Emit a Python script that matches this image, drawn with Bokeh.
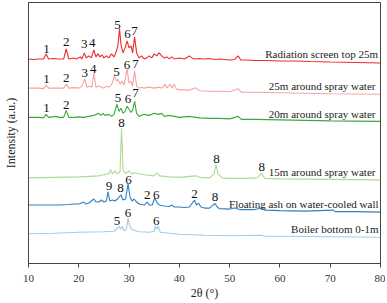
from bokeh.plotting import figure
from bokeh.models import Range1d, FixedTicker
from bokeh.core.properties import value
from bokeh.embed import file_html
from bokeh.resources import INLINE

# ---- data (2theta in degrees, intensity in a.u. with vertical offsets) ----
red_x = [10, 11, 12, 13, 13.5, 14, 15, 16, 17, 17.5, 18, 19, 19.5, 20.3, 20.6, 21.1, 21.5, 22, 22.5, 23, 23.4, 23.8, 24.2, 24.6, 25, 25.5, 26, 26.5, 27, 27.5, 27.8, 28.1, 28.4, 28.8, 29.2, 29.6, 30, 30.4, 30.7, 31.1, 31.5, 32, 32.5, 33, 33.5, 34, 34.5, 35, 35.5, 36, 36.5, 37, 37.5, 38, 38.5, 39, 40, 41, 42, 42.5, 43, 44, 45, 46, 47, 48, 49, 50, 51, 51.7, 52.2, 53, 55, 57, 60, 63, 66, 70, 75, 80]
red_y = [203, 202.5, 203, 203, 208, 203, 203.5, 203, 203, 213, 203, 204, 203, 205, 203, 209, 204, 206, 204, 212, 205, 208, 205, 207, 204, 206, 204, 208, 205, 211, 217, 233, 217, 209, 214, 221, 214, 216, 209, 225, 209, 204, 206, 203, 204, 206, 204, 208, 206, 209, 206, 204, 205, 203, 205, 203, 204, 203, 206, 204, 203, 203.5, 203, 203.5, 202.5, 203, 202.5, 202, 202.5, 206, 202, 202, 201.5, 201.5, 201, 201, 200.5, 200, 199.5, 199]

pink_x = [10, 12, 13, 13.5, 14, 16, 17, 17.5, 18, 19, 20, 20.6, 21.2, 21.6, 22.2, 22.6, 23, 23.4, 24, 24.5, 25, 25.5, 26, 26.5, 27.1, 27.5, 27.8, 28.2, 28.6, 29, 29.6, 30, 30.4, 30.7, 31.1, 31.5, 32, 32.5, 33, 34, 35, 36, 36.6, 37.2, 37.5, 38.2, 38.5, 39, 39.4, 40, 42, 43.2, 44, 46, 48, 50, 51.7, 52.3, 55, 60, 65, 70, 80]
pink_y = [174, 174, 173.5, 177, 174, 174, 174, 178, 174, 174.5, 174, 176, 183, 175, 176, 175, 189, 175, 176, 175, 174, 176, 175, 177, 186, 181, 183, 178, 181, 177, 193, 179, 181, 176, 191, 176, 174, 175, 174, 175, 174, 175, 174, 178, 174, 178, 174, 178, 173, 172.5, 172, 174.5, 171.5, 171, 171, 170.5, 173.5, 170, 170, 169.5, 169, 168.5, 168]

green_x = [10, 12, 13, 13.5, 14, 15.5, 16, 17, 17.5, 18, 19, 20, 21, 22, 23, 24, 24.4, 24.8, 25.2, 26, 26.5, 27, 27.6, 28, 28.4, 28.8, 29.2, 29.6, 30, 30.4, 30.7, 31.1, 31.5, 32, 33, 34, 35, 35.8, 36.5, 37, 38, 39, 40, 42, 44, 46, 48, 50, 51.7, 52.3, 55, 60, 65, 70, 80]
green_y = [145, 145, 144.5, 148, 145, 146, 145, 145, 152, 145, 145, 145.5, 145, 146, 147, 149, 147, 149, 147, 148, 146, 148, 158, 151, 154, 149, 151, 156, 153, 150, 152, 161, 149, 146, 148, 147, 149, 148, 149, 146, 147, 146, 145, 146, 144.5, 144, 144, 143.5, 146, 143, 143, 142.5, 142, 141.5, 141]

lgreen_x = [10, 15, 20, 24, 26, 26.3, 26.7, 27.2, 27.6, 28.2, 28.5, 28.8, 29.3, 30, 30.6, 31, 33, 35, 35.6, 36.1, 38, 40, 43.2, 44, 46, 46.9, 47.3, 47.7, 48.5, 50, 53, 55.5, 56.3, 57, 60, 70, 80]
lgreen_y = [85, 85.5, 86, 87, 89, 93, 89, 92, 89, 91, 134, 93, 89, 92, 89, 90, 88, 87, 90, 87, 86, 85.5, 87, 85.5, 85, 89, 98, 89, 85, 84.5, 84.5, 85, 89.5, 84.5, 84, 83.5, 83]

blue_x = [10, 12, 14, 16, 18, 19, 20, 21, 21.4, 22, 23, 23.4, 24, 24.5, 25, 25.5, 25.8, 26.2, 26.7, 27.2, 27.7, 28.4, 28.8, 29.3, 29.8, 30.2, 30.6, 31, 31.5, 32, 33, 33.6, 34, 34.6, 35.1, 35.5, 36, 37, 38, 38.5, 39, 40, 41, 42, 43, 43.4, 43.8, 44.3, 45, 46, 47.1, 47.6, 48, 50, 51, 52, 55, 56.3, 57, 60, 65, 70.5, 71, 75, 80]
blue_y = [58, 58, 58, 58, 58.5, 59, 59, 61, 59, 60, 64, 61, 61, 63, 61, 62, 71, 62, 63, 62, 64, 68, 63, 64, 79, 66, 62, 64, 61, 59, 58, 61, 58, 58, 65, 61, 58, 57, 56.5, 58, 56, 56, 55.5, 56, 63, 58, 60, 56, 55, 55, 59.5, 55.5, 54.5, 54, 55, 53.5, 53.5, 55, 53, 52.5, 52, 53, 51.5, 51.5, 51]

lblue_x = [10, 15, 20, 25, 27, 27.7, 28, 28.3, 28.6, 29, 29.5, 29.8, 30.2, 30.6, 31, 32, 34, 35, 35.2, 35.5, 35.8, 36.2, 38, 40, 45, 50, 56.3, 57, 60, 70, 80]
lblue_y = [29.5, 30, 31, 31.5, 32, 35, 37, 34, 37, 32.5, 34, 45, 36, 34, 33, 31.5, 31, 32, 37, 34, 37, 31, 30, 29, 28, 27.5, 28, 27, 27, 26.5, 26]

series_names = ["Radiation screen top 25m", "25m around spray water", "20m around spray water",
                "15m around spray water", "Floating ash on water-cooled wall", "Boiler bottom 0-1m"]
series_colors = ["#f02a2a", "#f7a3a3", "#3ea83a", "#addb8e", "#2f80c4", "#a2cbe8"]
name_x = [79.5, 79.0, 79.0, 79.0, 79.6, 79.6]
name_y = [208, 176, 148, 91, 59, 34]

peak_x = [13.6, 17.5, 21.1, 22.7, 27.7, 29.7, 31.1,
          13.6, 17.5, 21.2, 22.9, 27.5, 29.6, 31.3,
          13.6, 17.5, 27.8, 29.8, 31.3,
          28.5, 47.4, 56.4,
          26.0, 28.3, 29.9, 33.6, 35.4, 43.0, 47.1,
          27.6, 29.8, 35.4]
peak_y = [213, 219.5, 218, 219, 237, 228, 231,
          183, 184, 189, 193, 190, 197, 198,
          154, 157, 164, 163, 169,
          139, 104, 96,
          77, 75, 83, 68, 68, 69, 66,
          42, 50, 42]
peak_text = ["1", "2", "3", "4", "5", "6", "7",
             "1", "2", "3", "4", "5", "6", "7",
             "1", "2", "5", "6", "7",
             "8", "8", "8",
             "9", "8", "6", "2", "6", "2", "8",
             "5", "6", "6"]

x_ticks = [10, 20, 30, 40, 50, 60, 70, 80]

FONT = "Liberation Serif"

p = figure(width=385, height=302, output_backend="svg", toolbar_location=None,
           x_range=Range1d(10, 80), y_range=Range1d(0, 259),
           min_border_left=28, min_border_right=5, min_border_top=2, min_border_bottom=0)
p.background_fill_color = "white"
p.grid.visible = False
p.outline_line_color = "#444444"
p.outline_line_width = 1

xs = [red_x, pink_x, green_x, lgreen_x, blue_x, lblue_x]
ys = [red_y, pink_y, green_y, lgreen_y, blue_y, lblue_y]
for x, y, c in zip(xs, ys, series_colors):
    p.line(x, y, line_color=c, line_width=1.1)

p.text(x=name_x, y=name_y, text=series_names, text_font=value(FONT),
       text_font_size="11px", text_align="right", text_baseline="middle", text_color="#222222")
p.text(x=peak_x, y=peak_y, text=peak_text, text_font=value(FONT),
       text_font_size="13px", text_align="center", text_baseline="middle", text_color="#111111")

xa = p.xaxis[0]
xa.ticker = FixedTicker(ticks=x_ticks)
xa.axis_label = "2θ (°)"
xa.axis_label_text_font = FONT
xa.axis_label_text_font_style = "normal"
xa.axis_label_text_font_size = "12px"
xa.axis_label_text_color = "#222222"
xa.axis_label_standoff = 1
xa.major_label_text_font = FONT
xa.major_label_text_font_size = "11px"
xa.major_label_text_color = "#333333"
xa.major_label_standoff = 7
xa.major_tick_out = 4
xa.major_tick_in = 0
xa.minor_tick_line_color = None
xa.axis_line_color = "#444444"
xa.major_tick_line_color = "#444444"

ya = p.yaxis[0]
ya.ticker = FixedTicker(ticks=[])
ya.axis_label = "Intensity (a.u.)"
ya.axis_label_text_font = FONT
ya.axis_label_text_font_style = "normal"
ya.axis_label_text_font_size = "12px"
ya.axis_label_text_color = "#222222"
ya.axis_label_standoff = 11
ya.major_tick_line_color = None
ya.minor_tick_line_color = None
ya.major_label_text_font_size = "0px"
ya.axis_line_color = "#444444"

open("out.html", "w").write(file_html(p, INLINE))
